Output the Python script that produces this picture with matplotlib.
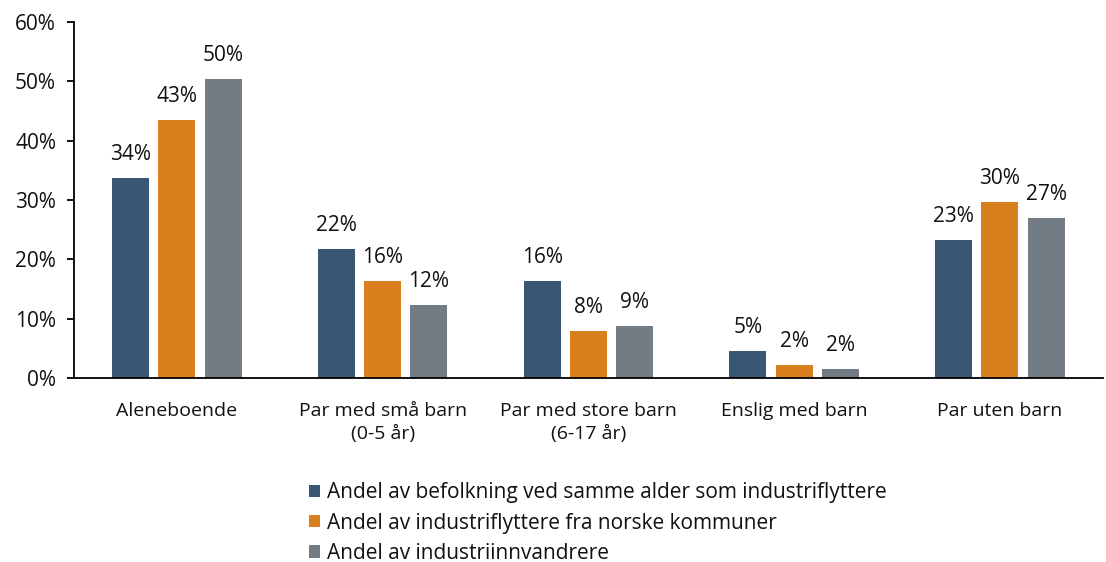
import matplotlib
matplotlib.use("Agg")
import matplotlib.pyplot as plt
import numpy as np
from matplotlib.ticker import FuncFormatter

categories = ["Aleneboende", "Par med små barn\n(0-5 år)", "Par med store barn\n(6-17 år)",
              "Enslig med barn", "Par uten barn"]
series_names = ["Andel av befolkning ved samme alder som industriflyttere",
                "Andel av industriflyttere fra norske kommuner",
                "Andel av industriinnvandrere"]
befolkning = [33.7, 21.8, 16.4, 4.6, 23.3]
flyttere = [43.4, 16.4, 7.9, 2.2, 29.7]
innvandrere = [50.4, 12.3, 8.8, 1.5, 27.0]
yticks = [0, 10, 20, 30, 40, 50, 60]

colors = ["#3A5675", "#D97F1E", "#737B84"]

plt.rcParams['font.family'] = ['Open Sans', 'DejaVu Sans']
FS_X = 14
FS_NUM = 15
FS_LEG = 15
fig = plt.figure(figsize=(11.06, 5.62), dpi=100)
ax = fig.add_axes([0.067, 0.327, 0.93, 0.634])

x = np.arange(len(categories))
w = 0.18
offsets = [-0.225, 0, 0.225]
for vals, off, c, name in zip([befolkning, flyttere, innvandrere], offsets, colors, series_names):
    bars = ax.bar(x + off, vals, width=w, color=c, label=name)
    for b, v in zip(bars, vals):
        ax.text(b.get_x() + b.get_width() / 2, v + 2.2, f"{v:.0f}%", ha="center", va="bottom",
                fontsize=FS_NUM, color="#111111")

ax.set_xlim(-0.5, len(categories) - 0.5)
ax.set_ylim(0, 60)
ax.set_yticks(yticks)
ax.yaxis.set_major_formatter(FuncFormatter(lambda v, p: f"{v:.0f}%"))
ax.set_xticks(x)
ax.set_xticklabels(categories, fontsize=FS_X, color="#111111")
ax.tick_params(axis='x', length=0, pad=17)
ax.tick_params(axis='y', length=5, width=1.3, labelsize=FS_NUM, labelcolor="#111111", pad=8, direction='out')
for lbl in ax.get_xticklabels():
    lbl.set_linespacing(1.4)
ax.spines['top'].set_visible(False)
ax.spines['right'].set_visible(False)
ax.spines['left'].set_linewidth(1.3)
ax.spines['bottom'].set_linewidth(1.3)

leg = fig.legend(loc="upper left", bbox_to_anchor=(0.279, 0.142), frameon=False, fontsize=FS_LEG,
                 handlelength=0.55, handleheight=0.55, handletextpad=0.35, labelspacing=0.45,
                 borderpad=0, borderaxespad=0)
for t in leg.get_texts():
    t.set_color("#111111")

fig.savefig("out.png", dpi=100)
